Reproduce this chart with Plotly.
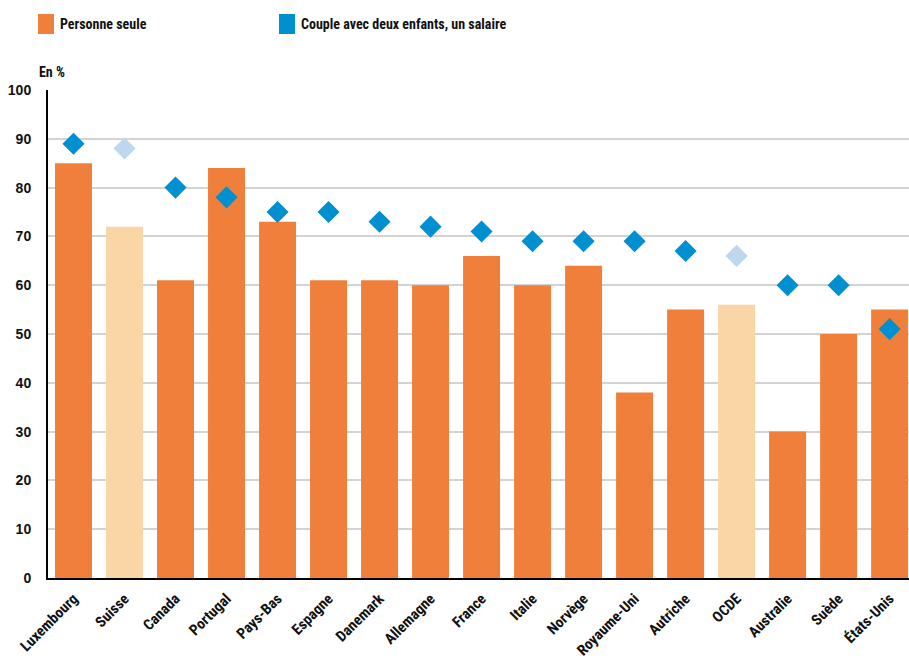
import plotly.graph_objects as go

countries = ["Luxembourg", "Suisse", "Canada", "Portugal", "Pays-Bas", "Espagne", "Danemark",
             "Allemagne", "France", "Italie", "Norvège", "Royaume-Uni", "Autriche", "OCDE",
             "Australie", "Suède", "États-Unis"]
personne_seule = [85, 72, 61, 84, 73, 61, 61, 60, 66, 60, 64, 38, 55, 56, 30, 50, 55]
couple_un_salaire = [89, 88, 80, 78, 75, 75, 73, 72, 71, 69, 69, 69, 67, 66, 60, 60, 51]
highlight = ["Suisse", "OCDE"]
y_ticks = [0, 10, 20, 30, 40, 50, 60, 70, 80, 90, 100]

ORANGE = "#F07F3C"
ORANGE_LIGHT = "#FAD5A5"
BLUE = "#0090D0"
BLUE_LIGHT = "#BDD7EE"

bar_colors = [ORANGE_LIGHT if c in highlight else ORANGE for c in countries]
dot_colors = [BLUE_LIGHT if c in highlight else BLUE for c in countries]

FONT = "Liberation Sans Narrow, Roboto Condensed, Arial Narrow, Liberation Sans, sans-serif"

fig = go.Figure()
fig.add_trace(go.Bar(x=countries, y=personne_seule, marker=dict(color=bar_colors, line=dict(width=0)),
                     width=0.725, name="Personne seule", showlegend=False))
fig.add_trace(go.Scatter(x=countries, y=couple_un_salaire, mode="markers",
                         marker=dict(symbol="diamond", size=17, color=dot_colors, line=dict(width=0)),
                         name="Couple avec deux enfants, un salaire", showlegend=False))

fig.update_layout(
    width=909, height=661,
    margin=dict(l=48, r=0, t=90, b=83),
    plot_bgcolor="white", paper_bgcolor="white",
    xaxis=dict(range=[-0.5, 16.38], tickangle=-45, showgrid=False, ticks="",
               tickfont=dict(family=FONT, size=15, color="#111111", weight="bold"),
               ticklabelstandoff=4, automargin=False,
               showline=True, linecolor="#000000", linewidth=2, fixedrange=True),
    yaxis=dict(range=[0, 100], tickvals=y_ticks, showgrid=True, gridcolor="#D3D3D3", gridwidth=1.5,
               zeroline=False, showline=True, linecolor="#000000", linewidth=2, automargin=False,
               tickfont=dict(family="Liberation Sans, Arial, sans-serif", size=14, color="#111111",
                             weight="bold"),
               ticks="", ticklabelstandoff=12),
)

# Manual legend
fig.add_shape(type="rect", xref="paper", yref="paper", x0=(38-48)/861, x1=(54-48)/861,
              y0=(661-83-34)/488, y1=(661-83-14)/488, fillcolor=ORANGE, line=dict(width=0))
fig.add_annotation(xref="paper", yref="paper", x=(58-48)/861, y=(661-83-24)/488, xanchor="left",
                   yanchor="middle", showarrow=False, text="<b>Personne seule</b>",
                   font=dict(family=FONT, size=14, color="#111111"))
fig.add_shape(type="rect", xref="paper", yref="paper", x0=(279-48)/861, x1=(295-48)/861,
              y0=(661-83-34)/488, y1=(661-83-14)/488, fillcolor=BLUE, line=dict(width=0))
fig.add_annotation(xref="paper", yref="paper", x=(299-48)/861, y=(661-83-24)/488, xanchor="left",
                   yanchor="middle", showarrow=False, text="<b>Couple avec deux enfants, un salaire</b>",
                   font=dict(family=FONT, size=14, color="#111111"))
fig.add_annotation(xref="paper", yref="paper", x=(37-48)/861, y=(661-83-72)/488, xanchor="left",
                   yanchor="middle", showarrow=False, text="<b>En %</b>",
                   font=dict(family=FONT, size=14, color="#111111"))

fig.write_html("out.html")
